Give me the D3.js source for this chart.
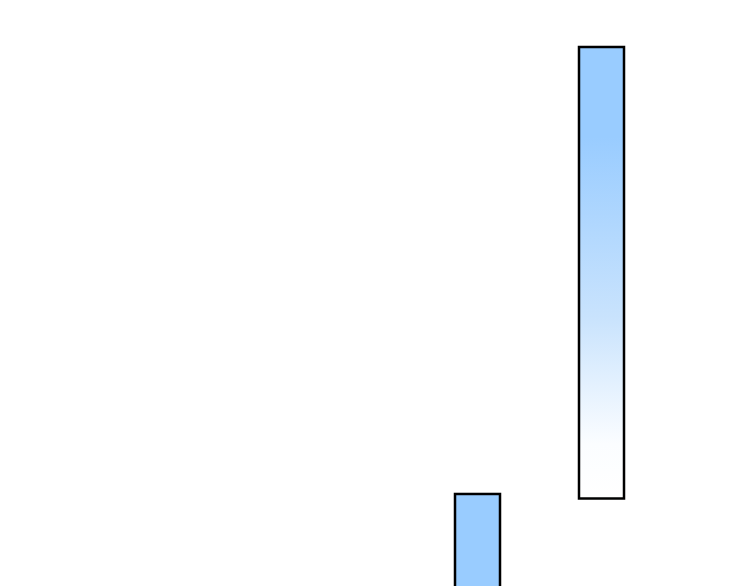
<!DOCTYPE html>
<html>
<head>
<meta charset="utf-8">
<script src="https://cdn.jsdelivr.net/npm/d3@7"></script>
<style>
  body { margin: 0; background: #fff; }
  svg { display: block; }
</style>
</head>
<body>
<div id="chart"></div>
<script>
// data
var categories = ["A", "B"];
var startValues = [1, 0];
var endValues = [-25, 100];

// dimensions
var svgWidth = 750;
var svgHeight = 586;
var barWidth = 45;

var svg = d3.select("#chart")
  .append("svg")
  .attr("width", svgWidth)
  .attr("height", svgHeight);

// gradient for the rising bar
var defs = svg.append("defs");
var grad = defs.append("linearGradient")
  .attr("id", "riseFill")
  .attr("x1", 0).attr("y1", 0)
  .attr("x2", 0).attr("y2", 1);
grad.append("stop").attr("offset", "0%").attr("stop-color", "#99ccff");
grad.append("stop").attr("offset", "20%").attr("stop-color", "#99ccff");
grad.append("stop").attr("offset", "60%").attr("stop-color", "#c9e3fd");
grad.append("stop").attr("offset", "88%").attr("stop-color", "#fbfdff");
grad.append("stop").attr("offset", "100%").attr("stop-color", "#ffffff");

// scales
var xScale = d3.scaleLinear()
  .domain([0, categories.length - 1])
  .range([477.5, 601.5]);

var yScale = d3.scaleLinear()
  .domain([0, 100])
  .range([498.5, 47]);

var bars = categories.map(function(c, i) {
  return { name: c, start: startValues[i], end: endValues[i] };
});

svg.selectAll("rect.bar")
  .data(bars)
  .enter()
  .append("rect")
  .attr("class", "bar")
  .attr("x", function(d, i) { return xScale(i) - barWidth / 2; })
  .attr("y", function(d) { return yScale(Math.max(d.start, d.end)); })
  .attr("width", barWidth)
  .attr("height", function(d) { return Math.abs(yScale(d.start) - yScale(d.end)); })
  .attr("fill", function(d) { return d.end > d.start ? "url(#riseFill)" : "#99ccff"; })
  .attr("stroke", "#000")
  .attr("stroke-width", 2.5);
</script>
</body>
</html>
